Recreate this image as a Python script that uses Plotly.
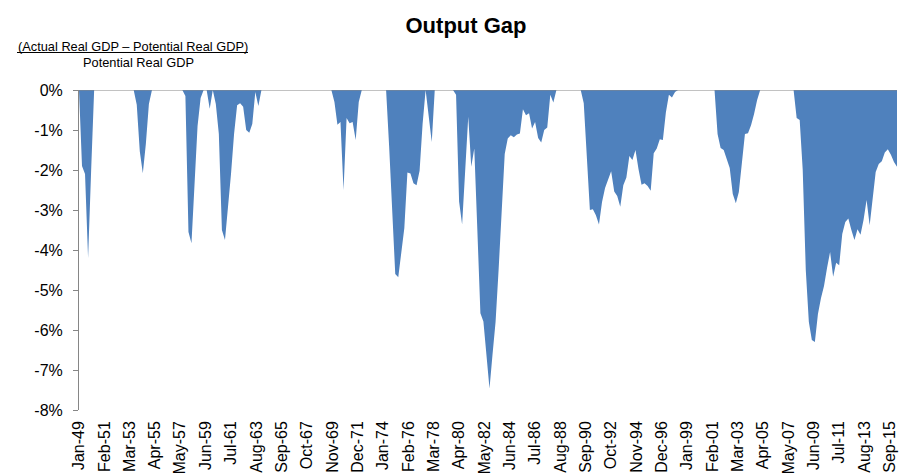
import pandas as pd
import plotly.graph_objects as go

# quarterly output gap, % of potential GDP (positive gaps shown as 0, the axis stops at 0%)
# one row per year, Q1..Q4, starting 1949
gap_1949_1959 = [
    0, -1.9, -2.1, -4.2,        # 1949
    -2.0, 0, 0, 0,              # 1950
    0, 0, 0, 0,                 # 1951
    0, 0, 0, 0,                 # 1952
    0, 0, 0, -0.37,             # 1953
    -1.54, -2.08, -1.35, -0.35, # 1954
    0, 0, 0, 0,                 # 1955
    0, 0, 0, 0,                 # 1956
    0, 0, 0, -0.15,             # 1957
    -3.55, -3.83, -2.3, -0.9,   # 1958
    -0.2, 0, 0, -0.47,          # 1959
]
gap_1960_1969 = [
    0, -0.35, -1.1, -3.5,       # 1960
    -3.75, -2.95, -2.1, -1.1,   # 1961
    -0.38, -0.33, -0.42, -1.0,  # 1962
    -1.07, -0.85, -0.05, -0.4,  # 1963
    0, 0, 0, 0,                 # 1964
    0, 0, 0, 0,                 # 1965
    0, 0, 0, 0,                 # 1966
    0, 0, 0, 0,                 # 1967
    0, 0, 0, 0,                 # 1968
    0, 0, 0, 0,                 # 1969
]
gap_1970_1979 = [
    -0.3, -0.87, -0.8, -2.5,    # 1970
    -0.7, -0.83, -0.8, -1.25,   # 1971
    -0.3, 0, 0, 0,              # 1972
    0, 0, 0, 0,                 # 1973
    0, 0, -1.4, -3.0,           # 1974
    -4.6, -4.68, -4.0, -3.45,   # 1975
    -2.06, -2.09, -2.33, -2.38, # 1976
    -2.02, -0.85, 0, -0.6,      # 1977
    -1.3, 0, 0, 0,              # 1978
    0, 0, 0, 0,                 # 1979
]
gap_1980_1989 = [
    -0.12, -2.79, -3.36, -2.0,  # 1980
    -0.67, -1.92, -1.46, -3.5,  # 1981
    -5.58, -5.79, -6.65, -7.46, # 1982
    -6.6, -5.8, -4.5, -2.9,     # 1983
    -1.6, -1.21, -1.13, -1.18,  # 1984
    -1.11, -1.09, -0.48, -0.63, # 1985
    -0.58, -0.96, -0.8, -1.2,   # 1986
    -1.31, -1.0, -0.94, -0.12,  # 1987
    -0.31, 0, 0, 0,             # 1988
    0, 0, 0, 0,                 # 1989
]
gap_1990_1999 = [
    0, 0, -0.33, -1.6,          # 1990
    -3.0, -2.98, -3.13, -3.36,  # 1991
    -2.8, -2.45, -2.25, -2.03,  # 1992
    -2.54, -2.65, -2.92, -2.38, # 1993
    -2.19, -1.65, -1.75, -1.5,  # 1994
    -1.98, -2.37, -2.33, -2.4,  # 1995
    -2.52, -1.58, -1.46, -1.23, # 1996
    -1.25, -0.56, -0.12, -0.19, # 1997
    -0.05, 0, 0, 0,             # 1998
    0, 0, 0, 0,                 # 1999
]
gap_2000_2016 = [
    0, 0, 0, 0,                 # 2000
    0, 0, -1.1, -1.45,          # 2001
    -1.5, -1.75, -1.95, -2.6,   # 2002
    -2.83, -2.55, -1.75, -1.1,  # 2003
    -1.08, -0.88, -0.6, -0.25,  # 2004
    0, 0, 0, 0,                 # 2005
    0, 0, 0, 0,                 # 2006
    0, 0, 0, 0,                 # 2007
    -0.7, -0.75, -2.0, -4.5,    # 2008
    -5.8, -6.25, -6.3, -5.6,    # 2009
    -5.2, -4.9, -4.45, -4.05,   # 2010
    -4.67, -4.32, -4.38, -3.6,  # 2011
    -3.3, -3.21, -3.5, -3.75,   # 2012
    -3.48, -3.62, -3.25, -2.75, # 2013
    -3.38, -2.7, -2.05, -1.85,  # 2014
    -1.78, -1.56, -1.48, -1.62, # 2015
    -1.8, -1.92,                # 2016
]

tick_labels = ['Jan-49', 'Feb-51', 'Mar-53', 'Apr-55', 'May-57', 'Jun-59', 'Jul-61',
               'Aug-63', 'Sep-65', 'Oct-67', 'Nov-69', 'Dec-71', 'Jan-74', 'Feb-76',
               'Mar-78', 'Apr-80', 'May-82', 'Jun-84', 'Jul-86', 'Aug-88', 'Sep-90',
               'Oct-92', 'Nov-94', 'Dec-96', 'Jan-99', 'Feb-01', 'Mar-03', 'Apr-05',
               'May-07', 'Jun-09', 'Jul-11', 'Aug-13', 'Sep-15']
y_ticks = [0, -1, -2, -3, -4, -5, -6, -7, -8]

gap = gap_1949_1959 + gap_1960_1969 + gap_1970_1979 + gap_1980_1989 + gap_1990_1999 + gap_2000_2016
dates = pd.date_range('1949-01-01', periods=len(gap), freq='QS')
tick_dates = pd.date_range('1949-01-01', periods=len(tick_labels), freq='25MS')

FONT = 'Liberation Sans, Arial, sans-serif'
GREY = '#868686'

# the page body adds an 8px margin, so the figure is 8px smaller and everything is placed 8px up/left
fig = go.Figure()
fig.add_trace(go.Scatter(
    x=dates, y=gap,
    mode='lines',
    line=dict(width=0, color='#4F81BD'),
    fill='tozeroy',
    fillcolor='#4F81BD',
    hoverinfo='x+y',
    showlegend=False))

# the horizontal axis line sits at 0%
fig.add_shape(type='line', xref='paper', yref='y', x0=0, x1=1, y0=0, y1=0,
              line=dict(color=GREY, width=1), layer='above')

# fraction bar of the y label
fig.add_shape(type='line', xref='paper', yref='paper',
              x0=(17 - 79) / 818, x1=(248 - 79) / 818,
              y0=(410 - 52.5) / 320, y1=(410 - 52.5) / 320,
              line=dict(color='black', width=1))

fig.add_annotation(text='(Actual Real GDP \u2013 Potential Real GDP)', xref='paper', yref='paper',
                   x=(132.8 - 79) / 818, y=(410 - 46) / 320, xanchor='center', yanchor='middle',
                   showarrow=False, font=dict(family=FONT, size=12.8, color='black'))
fig.add_annotation(text='Potential Real GDP', xref='paper', yref='paper',
                   x=(138.8 - 79) / 818, y=(410 - 62) / 320, xanchor='center', yanchor='middle',
                   showarrow=False, font=dict(family=FONT, size=12.8, color='black'))

fig.update_layout(
    width=901, height=465,
    margin=dict(l=71, r=12, t=82, b=63),
    paper_bgcolor='white', plot_bgcolor='white',
    font=dict(family=FONT, color='black'),
    title=dict(text='<b>Output Gap</b>', x=458 / 901, xanchor='center',
               y=1 - 17 / 465, yanchor='middle', font=dict(family=FONT, size=22, color='black')),
    xaxis=dict(
        type='date',
        range=['1949-01-01', '2016-04-01'],
        tickvals=tick_dates, ticktext=tick_labels,
        tickangle=-90, tickfont=dict(family=FONT, size=16, color='black'),
        ticklabelstandoff=7,
        showgrid=False, zeroline=False, showline=False, ticks='',
        automargin=False),
    yaxis=dict(
        range=[-8, 0],
        tickvals=y_ticks, ticktext=[f'{v}%' for v in y_ticks],
        tickfont=dict(family=FONT, size=16, color='black'),
        ticklabelstandoff=7,
        showgrid=False, zeroline=False,
        showline=True, linecolor=GREY, linewidth=1,
        ticks='outside', ticklen=5, tickcolor=GREY,
        automargin=False),
)

fig.write_html('out.html')
